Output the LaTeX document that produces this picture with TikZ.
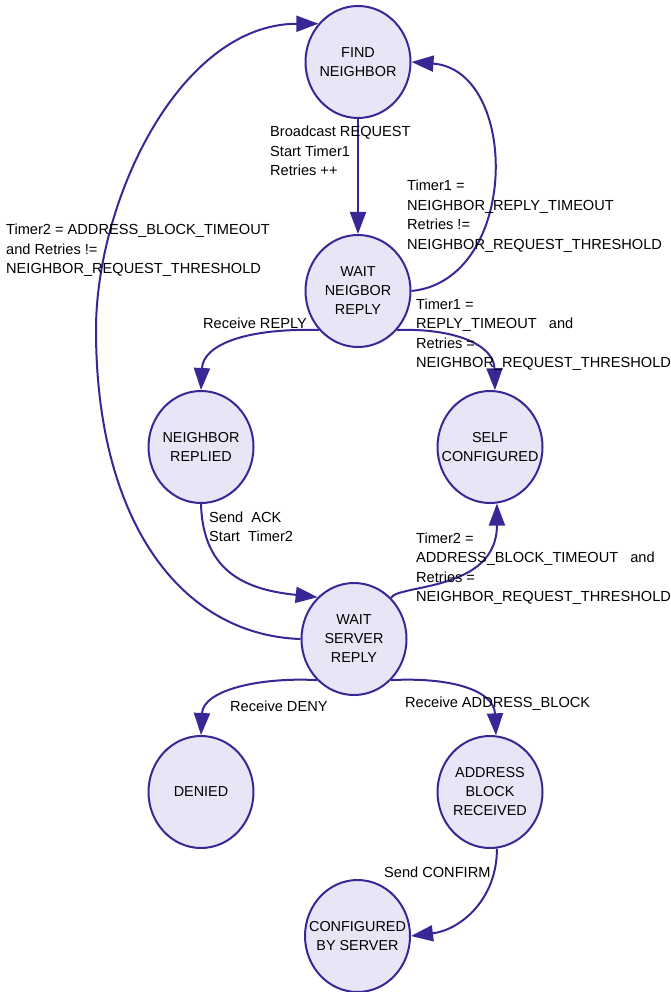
\documentclass[tikz,border=0pt]{standalone}
\usepackage{fontspec}
\setmainfont{Liberation Sans}
\usetikzlibrary{arrows.meta,shapes.geometric}
\definecolor{edgeblue}{RGB}{55,40,150}
\definecolor{statefill}{RGB}{230,230,247}
\newcommand{\mlines}[1]{\vtop{\baselineskip=19.5pt\lineskiplimit=-20pt\halign{##\hfil\cr#1\crcr}}}
\begin{document}
\begin{tikzpicture}[x=1pt,y=-1pt,
  state/.style={ellipse, draw=edgeblue, fill=statefill, line width=2pt,
    minimum width=105pt, minimum height=112pt, inner sep=0pt},
  every label/.style={font=\fontsize{14.4}{19}\selectfont, align=center, inner sep=0pt},
  trans/.style={draw=edgeblue, line width=2pt, -{Triangle[length=22pt,width=16pt]}},
  lab/.style={font=\fontsize{14.6}{19.5}\selectfont, anchor=base west, inner sep=0pt}]
\useasboundingbox (0,0) rectangle (671,992);

% states
\node[state, label={[name=FNt]center:FIND\\NEIGHBOR}] (FN) at (358,62) {};
\node[state, label={[name=WNRt]center:WAIT\\NEIGBOR\\REPLY}] (WNR) at (358,291) {};
\node[state, label={[name=NRt]center:NEIGHBOR\\REPLIED}] (NR) at (201,447) {};
\node[state, label={[name=SCt]center:SELF\\CONFIGURED}] (SC) at (490,447) {};
\node[state, label={[name=WSRt]center:WAIT\\SERVER\\REPLY}] (WSR) at (354,639) {};
\node[state, label={[name=DENt]center:DENIED}] (DEN) at (201,792) {};
\node[state, label={[name=ABRt]center:ADDRESS\\BLOCK\\RECEIVED}] (ABR) at (490,792) {};
\node[state, label={[name=CBSt]center:CONFIGURED\\BY SERVER}] (CBS) at (357.5,936) {};

\coordinate (bendL) at (96,330);

% transitions
\draw[trans] (FN.south) -- (WNR.north);
\draw[trans] (WNR.east) .. controls (520,280) and (520,70) .. (FN.east);
\draw[trans] (WNR.-45) .. controls (455,328) and (494,345) .. (SC.85);
\draw[trans] (WNR.-135) .. controls (245,328) and (203,345) .. (NR.north);
\draw[trans] (NR.south) .. controls (203,575) and (250,590) .. (WSR.131);
\draw[trans] (WSR.48) .. controls (398,584) and (497,592) .. (SC.-83);
\draw[trans] (WSR.west) .. controls (180,635) and (96,520) .. (bendL)
   .. controls (96,200) and (180,24) .. (FN.136);
\draw[trans] (WSR.-132) .. controls (260,677) and (203,690) .. (DEN.north);
\draw[trans] (WSR.-48) .. controls (450,677) and (494,690) .. (ABR.84);
\draw[trans] (ABR.-83) .. controls (497,900) and (460,930) .. (CBS.east);

% labels
\node[lab] (L1) at (270,137) {\mlines{Broadcast REQUEST\cr Start Timer1\cr Retries ++}};
\node[lab] (L2) at (407,191) {\mlines{Timer1 =\cr NEIGHBOR\_REPLY\_TIMEOUT\cr Retries !=\cr NEIGHBOR\_REQUEST\_THRESHOLD}};
\node[lab] (L3) at (416,309) {\mlines{Timer1 =\cr REPLY\_TIMEOUT\ \ \ and\cr Retries =\cr NEIGHBOR\_REQUEST\_THRESHOLD}};
\node[lab] (L4) at (203,328) {Receive REPLY};
\node[lab] (L5) at (209,522) {\mlines{Send\ \ ACK\cr Start\ \ Timer2}};
\node[lab] (L6) at (416,543) {\mlines{Timer2 =\cr ADDRESS\_BLOCK\_TIMEOUT\ \ \ and\cr Retries =\cr NEIGHBOR\_REQUEST\_THRESHOLD}};
\node[lab] (L7) at (6,235) {\mlines{Timer2 = ADDRESS\_BLOCK\_TIMEOUT\cr and Retries !=\cr NEIGHBOR\_REQUEST\_THRESHOLD}};
\node[lab] (L8) at (230,711) {Receive DENY};
\node[lab] (L9) at (405,707) {Receive ADDRESS\_BLOCK};
\node[lab] (L10) at (384,877) {Send CONFIRM};
\end{tikzpicture}
\end{document}
